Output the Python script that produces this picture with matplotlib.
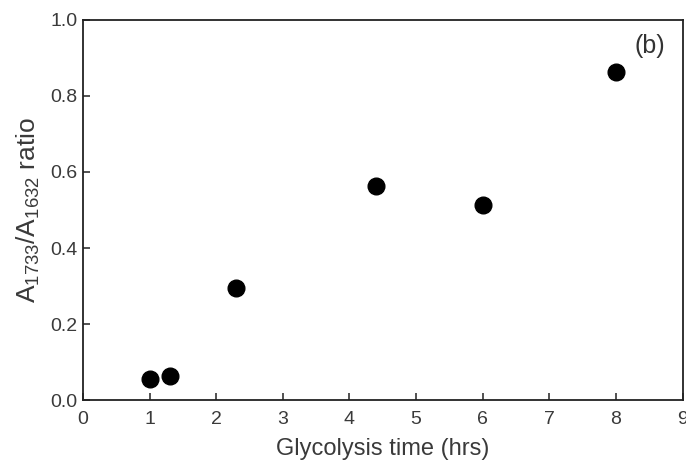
import matplotlib
matplotlib.use('Agg')
from matplotlib import pyplot as plt

plt.rcParams['font.family'] = ['Liberation Sans', 'DejaVu Sans']
plt.rcParams['mathtext.fontset'] = 'custom'
plt.rcParams['mathtext.rm'] = 'Liberation Sans'
plt.rcParams['mathtext.it'] = 'Liberation Sans:italic'

# glycolysis time (hrs) vs absorbance ratio
time_hrs = [1.0, 1.3, 2.3, 4.4, 6.0, 8.0]
ratio = [0.056, 0.063, 0.294, 0.562, 0.514, 0.864]

fig = plt.figure(figsize=(6.86, 4.61), dpi=100)
ax = fig.add_axes([0.121, 0.132, 0.874, 0.825])

ax.plot(time_hrs, ratio, 'o', color='black', markersize=12)

ax.set_xlim(0, 9)
ax.set_ylim(0, 1.0)
ax.set_xticks(range(0, 10))
ax.set_yticks([0.0, 0.2, 0.4, 0.6, 0.8, 1.0])
ax.set_yticklabels(['0.0', '0.2', '0.4', '0.6', '0.8', '1.0'])
ax.tick_params(direction='in', length=5, width=1.2, labelsize=14, colors='#333333', labelcolor='#3a3a3a')
ax.tick_params(axis='x', pad=8)
ax.tick_params(axis='y', pad=4)
for s in ax.spines.values():
    s.set_linewidth(1.3)
    s.set_color('#222222')

ax.set_xlabel('Glycolysis time (hrs)', fontsize=17, color='#3a3a3a', labelpad=7)
ax.set_ylabel(r'A$_{\mathregular{1733}}$/A$_{\mathregular{1632}}$ ratio', fontsize=19, color='#3a3a3a', labelpad=6)
ax.text(8.28, 0.93, '(b)', fontsize=18, color='#333333', ha='left', va='center')

fig.savefig('out.png', dpi=100)
